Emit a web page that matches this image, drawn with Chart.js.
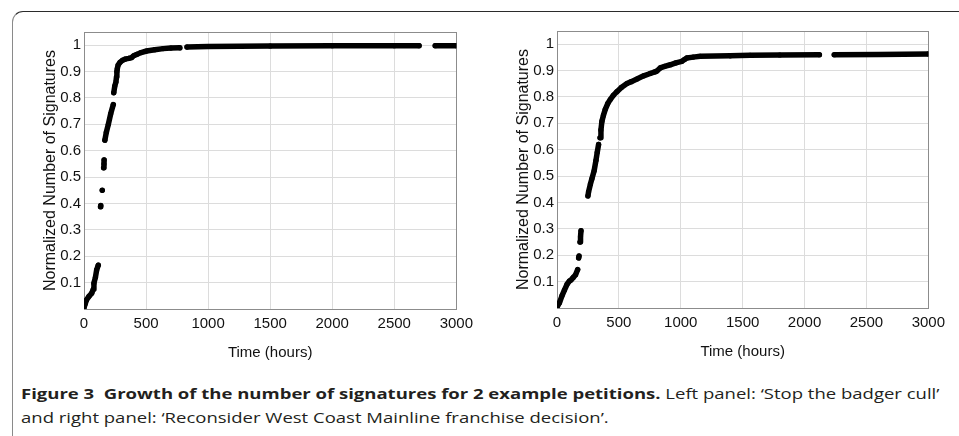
<!DOCTYPE html>
<html>
<head>
<meta charset="utf-8">
<script src="https://cdn.jsdelivr.net/npm/chart.js@4.4.1/dist/chart.umd.min.js"></script>
<style>
html, body { margin: 0; padding: 0; background: #fff; width: 959px; height: 436px; overflow: hidden; }
.frame { position: absolute; left: 12px; top: 11px; width: 1000px; height: 500px;
  border-top: 1.5px solid #2b2b2b; border-left: 1.5px solid #8a8a8a; border-top-left-radius: 11px; }
canvas { position: absolute; }
#caption { position: absolute; left: 21px; top: 381px; font-family: 'Open Sans', sans-serif; font-size: 15px;
  color: #231f20; line-height: 24px; white-space: nowrap; transform-origin: 0 0; }
#caption span.line { display: inline-block; }
#caption b { font-weight: 700; }
</style>
</head>
<body>
<div class="frame"></div>
<canvas id="leftPanel" width="459" height="350" style="left:20px;top:20px"></canvas>
<canvas id="rightPanel" width="458" height="350" style="left:493px;top:19px"></canvas>
<div id="caption">
  <span class="line" id="capLine1"><b>Figure 3&nbsp; Growth of the number of signatures for 2 example petitions.</b> Left panel: ‘Stop the badger cull’</span><br>
  <span class="line">and right panel: ‘Reconsider West Coast Mainline franchise decision’.</span>
</div>
<script>
const xTicks = [0, 500, 1000, 1500, 2000, 2500, 3000];
const yTicks = [0.1, 0.2, 0.3, 0.4, 0.5, 0.6, 0.7, 0.8, 0.9, 1];

// left panel: 'Stop the badger cull'  (null = gap in the recorded points)
const badgerHours = [0, 10, 21, 40, 62, 75, 80, 92, 102, 115, null,
  133, 135, null, 147, null, 158, 161, 162, null,
  168, 180, 196, 215, 236, null,
  240, 248, 257, 262, 265, 268, 275, 290, 310, 330, 360, 384, 400, 424, 460, 504, 570, 638, 700, 772, null,
  830, 1000, 1500, 2000, 2500, 2700, null, 2830, 3000];
const badgerValues = [0.005, 0.02, 0.035, 0.048, 0.06, 0.075, 0.098, 0.12, 0.148, 0.166, null,
  0.388, 0.392, null, 0.45, null, 0.535, 0.55, 0.565, null,
  0.64, 0.67, 0.70, 0.74, 0.775, null,
  0.82, 0.845, 0.86, 0.88, 0.90, 0.91, 0.925, 0.935, 0.943, 0.947, 0.950, 0.953, 0.96, 0.965, 0.972, 0.978, 0.983, 0.987, 0.989, 0.99, null,
  0.993, 0.995, 0.997, 0.998, 0.998, 0.998, null, 0.998, 0.998];

// right panel: 'Reconsider West Coast Mainline franchise decision'
const westCoastHours = [0, 20, 40, 60, 81, 100, 113, 130, 150, 167, null,
  175, 178, null, 186, 190, 194, null,
  250, 255, 270, 282, 300, 315, 325, 336, null,
  348, 355, 363, 375, 390, 410, 430, 455, 484, 520, 565, 600, 646, 700, 753, 790, 807, 834, 870, 915, 960,
  1009, 1030, 1049, 1100, 1157, 1400, 1560, 1800, 2120, null, 2240, 2600, 3000];
const westCoastValues = [0.003, 0.02, 0.046, 0.068, 0.09, 0.102, 0.106, 0.115, 0.126, 0.146, null,
  0.19, 0.197, null, 0.25, 0.27, 0.293, null,
  0.425, 0.44, 0.47, 0.49, 0.52, 0.56, 0.59, 0.62, null,
  0.645, 0.675, 0.708, 0.73, 0.753, 0.775, 0.79, 0.806, 0.82, 0.836, 0.851, 0.858, 0.868, 0.88, 0.889, 0.895, 0.898, 0.91, 0.916, 0.922, 0.929,
  0.935, 0.942, 0.948, 0.951, 0.954, 0.956, 0.958, 0.959, 0.96, null, 0.96, 0.961, 0.963];

const tickFont = { family: 'Liberation Sans', size: 15 };

// grey box round the plot area, drawn under the points
const frameBox = {
  id: 'frameBox',
  beforeDatasetsDraw(chart) {
    const { ctx, chartArea: a } = chart;
    ctx.save();
    ctx.strokeStyle = '#8c8c8c';
    ctx.lineWidth = 1;
    ctx.strokeRect(Math.round(a.left) + 0.5, Math.round(a.top) + 0.5, Math.round(a.width), Math.round(a.height));
    ctx.restore();
  }
};

function makeChart(id, hours, values) {
  const points = hours.map((h, i) => ({ x: h, y: values[i] }));
  return new Chart(document.getElementById(id), {
    type: 'scatter',
    data: {
      datasets: [{
        data: points,
        showLine: true,
        spanGaps: false,
        borderColor: '#000',
        backgroundColor: '#000',
        borderWidth: 5.5,
        borderCapStyle: 'round',
        borderJoinStyle: 'round',
        pointRadius: 2.6,
        pointBorderWidth: 0
      }]
    },
    options: {
      responsive: false,
      animation: false,
      events: [],
      layout: { padding: { top: 9, right: 18, left: 0, bottom: 0 } },
      plugins: { legend: { display: false }, tooltip: { enabled: false } },
      scales: {
        x: {
          type: 'linear', min: 0, max: 3000,
          afterBuildTicks: s => { s.ticks = xTicks.map(v => ({ value: v })); },
          afterFit: s => { s.height = 61; },
          grid: { color: '#dcdcdc', drawTicks: false },
          border: { display: false },
          ticks: { color: '#111', font: tickFont, padding: 6, maxRotation: 0, autoSkip: false,
            callback: v => String(v) },
          title: { display: true, text: 'Time (hours)', color: '#111', font: { family: 'Liberation Sans', size: 15 },
            padding: { top: 0, bottom: 8 } }
        },
        y: {
          type: 'linear', min: 0, max: 1.05,
          afterBuildTicks: s => { s.ticks = yTicks.map(v => ({ value: v })); },
          afterFit: s => { s.width = 64; },
          grid: { color: '#dcdcdc', drawTicks: false },
          border: { display: false },
          ticks: { color: '#111', font: tickFont, padding: 3, autoSkip: false,
            callback: v => String(Math.round(v * 10) / 10) },
          title: { display: true, text: 'Normalized Number of Signatures', color: '#111',
            font: { family: 'Liberation Sans', size: 16 }, padding: { top: 21, bottom: 0 } }
        }
      }
    },
    plugins: [frameBox]
  });
}

makeChart('leftPanel', badgerHours, badgerValues);
makeChart('rightPanel', westCoastHours, westCoastValues);

// squeeze the caption to the width it has in the figure
const caption = document.getElementById('caption');
const k = 919 / document.getElementById('capLine1').offsetWidth;
caption.style.transform = 'scaleX(' + k + ')';
</script>
</body>
</html>
